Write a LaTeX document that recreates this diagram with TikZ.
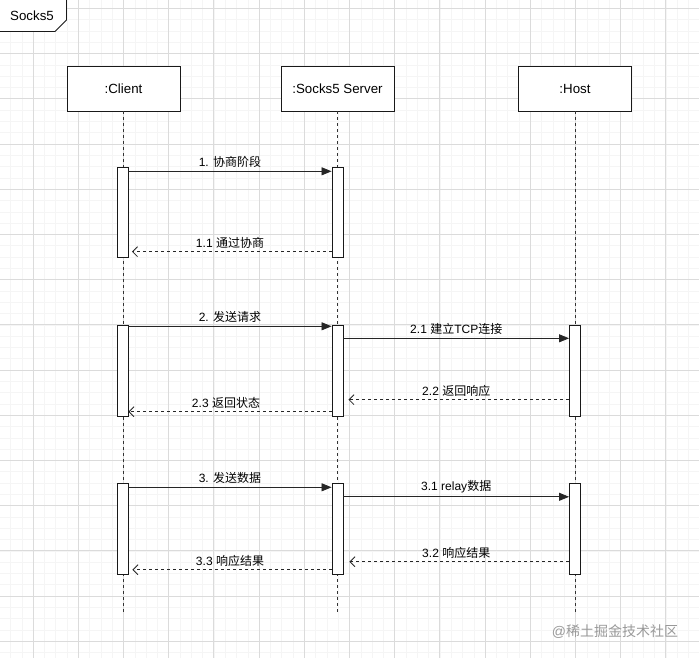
\documentclass[tikz,border=0pt]{standalone}
\usepackage{fontspec}
\setmainfont{Liberation Sans}
\newfontfamily\cjk{Noto Sans CJK SC}
\usetikzlibrary{arrows.meta}
\begin{document}
\begin{tikzpicture}[x=1pt,y=-1pt,
  minorg/.style={draw=black!4,line width=0.4pt},
  majorg/.style={draw=black!14,line width=0.7pt},
  part/.style={draw=black!90,line width=0.9pt,fill=white,minimum width=113pt,minimum height=45pt,inner sep=0pt,font=\fontsize{13.3}{16}\selectfont},
  bar/.style={draw=black!90,line width=0.9pt,fill=white,minimum width=11pt,minimum height=90.5pt,inner sep=0pt},
  life/.style={draw=black!80,line width=0.9pt,dash pattern=on 3pt off 3pt},
  msg/.style={draw=black!85,line width=0.8pt,-{Triangle[length=10pt,width=8pt]}},
  ret/.style={draw=black!85,line width=0.8pt,dash pattern=on 3pt off 3pt,-{Straight Barb[length=5pt,width=10pt]}},
  lbl/.style={font=\fontsize{12}{14}\selectfont,inner sep=1pt,above=2pt,text=black}]
\useasboundingbox (0,0) rectangle (699,658);
\fill[white] (0,0) rectangle (699,658);
% grid
\foreach \i in {0,...,62} {\draw[minorg] ({-0.9+\i*11.3},0) -- ({-0.9+\i*11.3},658);}
\foreach \i in {0,...,59} {\draw[minorg] (0,{-3+\i*11.3}) -- (699,{-3+\i*11.3});}
\foreach \i in {0,...,15} {\draw[majorg] ({33+(\i-1)*45.2},0) -- ({33+(\i-1)*45.2},658);}
\foreach \i in {0,...,15} {\draw[majorg] (0,{53.5+(\i-1)*45.2}) -- (699,{53.5+(\i-1)*45.2});}
% frame label
\draw[draw=black!90,line width=0.9pt,fill=white] (-1,-1) -- (66.5,-1) -- (66.5,20) -- (55,31.5) -- (-1,31.5);
\node[font=\fontsize{13.3}{16}\selectfont] (frm) at (32,15.5) {Socks5};
% participants
\node[part] (client) at (123.5,88.5) {:Client};
\node[part] (server) at (337.5,88.5) {:Socks5 Server};
\node[part] (host) at (575,88.5) {:Host};
\coordinate (endC) at (123.5,615);
\coordinate (endS) at (337.5,615);
\coordinate (endH) at (575,615);
\draw[life] (client.south) -- (endC);
\draw[life] (server.south) -- (endS);
\draw[life] (host.south) -- (endH);
% activation bars
\node[bar] (c1) at (122.5,212.5) {};
\node[bar] (s1) at (337.5,212.5) {};
\node[bar] (c2) at (122.5,371) {};
\node[bar] (s2) at (337.5,371) {};
\node[bar] (h2) at (575,371) {};
\node[bar] (c3) at (122.5,529) {};
\node[bar] (s3) at (337.5,529) {};
\node[bar] (h3) at (575,529) {};
% phase 1
\draw[msg] ([yshift=-4.5pt]c1.north east) -- node[lbl]{1. {\cjk 协商阶段}} ([yshift=-4.5pt]s1.north west);
\draw[ret,shorten >=3.5pt] ([yshift=6.5pt]s1.south west) -- node[lbl]{1.1 {\cjk 通过协商}} ([yshift=6.5pt]c1.south east);
% phase 2
\draw[msg] ([yshift=-1pt]c2.north east) -- node[lbl]{2. {\cjk 发送请求}} ([yshift=-1pt]s2.north west);
\draw[msg] ([yshift=-13pt]s2.north east) -- node[lbl]{2.1 {\cjk 建立}TCP{\cjk 连接}} ([yshift=-13pt]h2.north west);
\draw[ret,shorten >=5pt] ([yshift=17pt]h2.south west) -- node[lbl]{2.2 {\cjk 返回响应}} ([yshift=17pt]s2.south east);
\draw[ret] ([yshift=5pt]s2.south west) -- node[lbl,xshift=-4pt]{2.3 {\cjk 返回状态}} ([yshift=5pt]c2.south east);
% phase 3
\draw[msg] ([yshift=-4pt]c3.north east) -- node[lbl]{3. {\cjk 发送数据}} ([yshift=-4pt]s3.north west);
\draw[msg] ([yshift=-13.5pt]s3.north east) -- node[lbl]{3.1 relay{\cjk 数据}} ([yshift=-13.5pt]h3.north west);
\draw[ret,shorten >=6pt] ([yshift=13pt]h3.south west) -- node[lbl]{3.2 {\cjk 响应结果}} ([yshift=13pt]s3.south east);
\draw[ret,shorten >=4pt] ([yshift=5pt]s3.south west) -- node[lbl]{3.3 {\cjk 响应结果}} ([yshift=5pt]c3.south east);
% watermark
\node[font=\fontsize{14}{16}\selectfont,text=black!40] (wm) at (615,632) {@{\cjk 稀土掘金技术社区}};
\end{tikzpicture}
\end{document}
